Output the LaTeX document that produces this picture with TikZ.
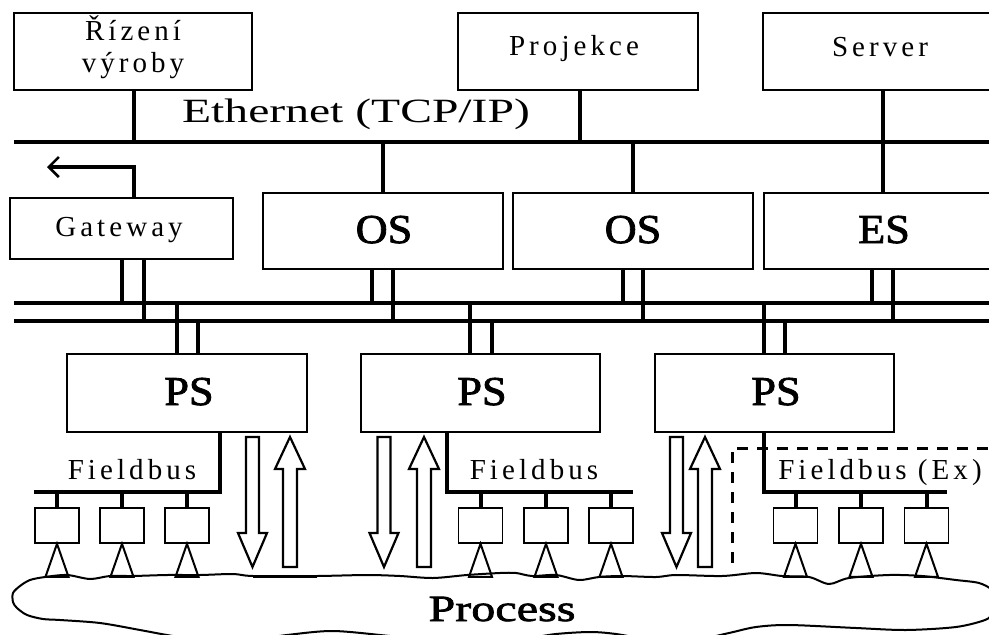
\documentclass[tikz,border=0pt]{standalone}
\usepackage{fontspec}
\setmainfont{Liberation Serif}
\newfontfamily\labelfont[LetterSpace=14]{Liberation Serif}
\newfontfamily\widefont[FakeStretch=1.4]{Liberation Serif}
\newfontfamily\bigfont[FakeStretch=1.08, FakeBold=2]{Liberation Serif}
\newfontfamily\procfont[FakeStretch=1.3, FakeBold=2]{Liberation Serif}
\usetikzlibrary{calc,arrows.meta}

% vertical drop from a point shifted along x to the level of a bus coordinate
\newcommand\busdrop[4]{\draw[#4] ($(#1)+(#2,0)$) coordinate (dropstart) -- (dropstart |- #3);}

\tikzset{
  box/.style={draw, line width=1.8pt, inner sep=0pt},
  dev/.style={draw, line width=1.6pt, inner sep=0pt, minimum width=44pt, minimum height=35pt},
  bus/.style={line width=3.3pt},
  devstub/.style={line width=4pt},
  tri/.style={line width=2pt, line join=miter},
  blk/.style={draw, line width=2.2pt, fill=white, line join=miter},
  lbl/.style={inner sep=0pt, anchor=base, font=\labelfont\fontsize{29}{32}\selectfont},
  big/.style={inner sep=0pt, anchor=base, font=\bigfont\fontsize{41}{44}\selectfont},
  exzone/.style={line width=3pt, dash pattern=on 11pt off 9pt},
  pics/downblk/.style={code={\draw[blk] (-6.5,0) -- (6.5,0) -- (6.5,96) -- (14.5,96) -- (0,130) -- (-14.5,96) -- (-6.5,96) -- cycle;}},
  pics/upblk/.style={code={\draw[blk] (-7,130) -- (7,130) -- (7,32) -- (15,32) -- (0,0) -- (-15,32) -- (-7,32) -- cycle;}},
}

\begin{document}
\begin{tikzpicture}[x=1pt,y=-1pt]
\useasboundingbox (0,0) rectangle (989,635);
\fill[white] (0,0) rectangle (989,635);
\clip (0,0) rectangle (989,635);

% bus levels
\coordinate (ethL) at (14,142);   \coordinate (ethR) at (995,142);
\coordinate (busAL) at (14,303);  \coordinate (busAR) at (995,303);
\coordinate (busBL) at (14,321);  \coordinate (busBR) at (995,321);
\coordinate (fb1) at (34,492);
\coordinate (fb2) at (633,492);
\coordinate (fb3) at (947,492);
\coordinate (gwout) at (47,167);

% top level stations
\node[box, minimum width=238pt, minimum height=77pt] (rizeni) at (133,51.5) {};
\node[box, minimum width=240pt, minimum height=77pt] (projekce) at (578,51.5) {};
\node[box, minimum width=240pt, minimum height=77pt] (server) at (883,51.5) {};

% operator level
\node[box, minimum width=223pt, minimum height=61pt] (gateway) at (121.5,228.5) {};
\node[box, minimum width=240pt, minimum height=76pt] (os1) at (383,231) {};
\node[box, minimum width=240pt, minimum height=76pt] (os2) at (633,231) {};
\node[box, minimum width=240pt, minimum height=76pt] (es) at (884,231) {};

% process stations
\node[box, minimum width=240pt, minimum height=78pt] (ps1) at (187,393) {};
\node[box, minimum width=239pt, minimum height=78pt] (ps2) at (480.5,393) {};
\node[box, minimum width=239pt, minimum height=78pt] (ps3) at (774.5,393) {};

% field devices
\foreach \n/\x in {d11/57, d12/122, d13/187, d21/480.5, d22/546, d23/611, d31/795.5, d32/861, d33/926.5}
  \node[dev] (\n) at (\x,525.5) {};

% Ethernet
\draw[bus] (ethL) -- (ethR);
\busdrop{rizeni.south}{1}{ethL}{bus}
\busdrop{projekce.south}{2}{ethL}{bus}
\draw[bus] (server.south) -- (server.south |- es.north);
\busdrop{os1.north}{0}{ethL}{bus}
\busdrop{os2.north}{0}{ethL}{bus}

% gateway outlet
\draw[bus, -{Straight Barb[length=10pt, width=20pt, line width=2.6pt]}]
  ($(gateway.north)+(12.5,0)$) |- (gwout);

% double system bus
\draw[bus] (busAL) -- (busAR);
\draw[bus] (busBL) -- (busBR);
\busdrop{gateway.south}{0.5}{busAL}{bus}
\busdrop{gateway.south}{22.5}{busBL}{bus}
\busdrop{os1.south}{-11}{busAL}{bus}
\busdrop{os1.south}{10}{busBL}{bus}
\busdrop{os2.south}{-10}{busAL}{bus}
\busdrop{os2.south}{10}{busBL}{bus}
\busdrop{es.south}{-12}{busAL}{bus}
\busdrop{es.south}{9}{busBL}{bus}
\busdrop{ps1.north}{-10}{busAL}{bus}
\busdrop{ps1.north}{11}{busBL}{bus}
\busdrop{ps2.north}{-10.5}{busAL}{bus}
\busdrop{ps2.north}{11.5}{busBL}{bus}
\busdrop{ps3.north}{-10.5}{busAL}{bus}
\busdrop{ps3.north}{10.5}{busBL}{bus}

% fieldbuses
\draw[bus] ($(ps1.south)+(33,0)$) coordinate (f1) -- (f1 |- fb1) -- (fb1);
\draw[bus] ($(ps2.south)+(-33.5,0)$) coordinate (f2) -- (f2 |- fb2) -- (fb2);
\draw[bus] ($(ps3.south)+(-10.5,0)$) coordinate (f3) -- (f3 |- fb3) -- (fb3);
\foreach \n/\b in {d11/fb1, d12/fb1, d13/fb1, d21/fb2, d22/fb2, d23/fb2, d31/fb3, d32/fb3, d33/fb3}
  \draw[devstub] (\n.north) -- (\n.north |- \b);

% sensors / actuators
\foreach \n in {d11, d12, d13, d21, d22, d23, d31, d32, d33}
  \draw[tri] (\n.south) -- ++(-11.5,33) -- ++(23,0) -- cycle;

% hazardous area boundary
\draw[exzone] (732,563) -- (732,448) -- (995,448);

% direct I/O
\pic at (252.5,437) {downblk};
\pic at (290,437) {upblk};
\pic at (384,437) {downblk};
\pic at (424,437) {upblk};
\pic at (676.5,437) {downblk};
\pic at (705,437) {upblk};

% process outline
\draw[line width=2pt] plot[smooth cycle, tension=0.5] coordinates {
  (20,586) (30,580) (45,577) (67,575) (90,579) (110,576) (133,576) (167,575)
  (200,575) (233,574) (253,576) (317,576) (367,575) (400,576) (433,578) (467,575)
  (500,573) (516,573) (532,576) (556,575) (579,580) (599,577) (622,576) (656,577)
  (676,575) (722,576) (756,573) (782,576) (809,577) (829,584) (849,578) (889,575)
  (922,576) (956,580) (979,583) (992,590) (997,602) (993,613) (985,620) (956,627)
  (906,630) (856,628) (789,625) (756,627) (729,633) (700,639) (660,641) (616,634)
  (590,632) (556,634) (520,639) (450,642) (390,636) (333,631) (287,635) (250,640)
  (200,640) (167,635) (140,630) (100,623) (60,620) (43,619) (27,615) (17,608)
  (13,602) (13,593)};
\draw[line width=3pt] (253,576) -- (317,576);

% texts
\node[lbl] (trizeni) at (133,40) {Řízení};
\node[lbl] (tvyroby) at (133,72) {výroby};
\node[lbl] (tproj) at (574,55) {Projekce};
\node[lbl] (tserv) at (880,56) {Server};
\node[inner sep=0pt, anchor=base, font=\widefont\fontsize{34}{36}\selectfont] (teth) at (356,122.5) {Ethernet (TCP/IP)};
\node[lbl] (tgw) at (119,236) {Gateway};
\node[big] (tos1) at (384,243) {OS};
\node[big] (tos2) at (633,243) {OS};
\node[big] (tes) at (884,243) {ES};
\node[big] (tps1) at (189,405) {PS};
\node[big] (tps2) at (482,405) {PS};
\node[big] (tps3) at (776,405) {PS};
\node[lbl] (tfb1) at (132,479) {Fieldbus};
\node[lbl] (tfb2) at (534,479) {Fieldbus};
\node[lbl] (tfb3) at (880,479) {Fieldbus (Ex)};
\node[inner sep=0pt, anchor=base, font=\procfont\fontsize{37}{40}\selectfont] (tproc) at (502,621) {Process};
\end{tikzpicture}
\end{document}
